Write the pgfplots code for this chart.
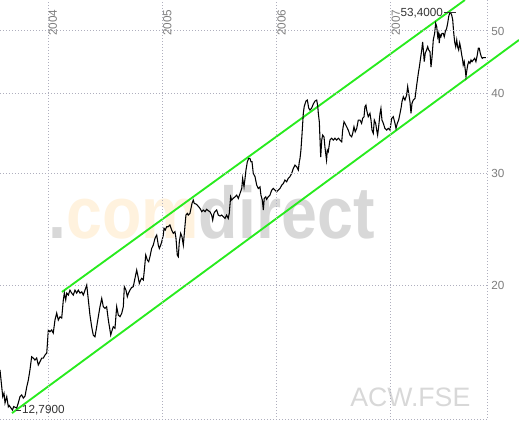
\documentclass[border=0pt]{standalone}
\usepackage{fontspec}
\setmainfont{Liberation Sans}
\usepackage{pgfplots}
\usepackage{pgfplotstable}
\pgfplotsset{compat=1.18}

\definecolor{gridc}{RGB}{175,175,190}
\definecolor{labgray}{RGB}{125,125,125}
\definecolor{chan}{RGB}{40,235,30}
\definecolor{wmpeach}{RGB}{255,242,222}
\definecolor{wmgray}{RGB}{216,216,216}
\definecolor{annot}{RGB}{50,50,50}

% ACW.FSE closing prices (decimal year, EUR)
\pgfplotstableread{
year price
2003.580 14.77
2003.604 13.42
2003.615 13.59
2003.624 13.12
2003.639 13.42
2003.653 12.94
2003.661 13.00
2003.676 12.88
2003.689 12.79
2003.700 12.95
2003.726 12.88
2003.740 13.12
2003.755 13.42
2003.770 13.50
2003.784 13.35
2003.799 13.45
2003.814 13.90
2003.828 14.25
2003.842 14.77
2003.857 15.49
2003.871 15.42
2003.886 15.31
2003.901 15.42
2003.915 15.04
2003.930 15.22
2003.945 15.42
2003.959 15.42
2003.974 15.59
2003.989 15.70
2004.003 17.06
2004.017 16.95
2004.032 17.06
2004.046 16.87
2004.061 17.68
2004.076 18.13
2004.090 17.68
2004.105 17.89
2004.120 17.81
2004.134 19.00
2004.143 19.48
2004.155 19.00
2004.164 19.48
2004.178 19.34
2004.192 19.69
2004.207 19.48
2004.221 19.34
2004.236 19.69
2004.251 19.48
2004.265 19.69
2004.280 19.48
2004.295 19.57
2004.309 19.34
2004.339 20.05
2004.353 19.00
2004.367 18.00
2004.382 17.26
2004.396 16.75
2004.411 16.65
2004.426 17.26
2004.440 17.89
2004.455 18.55
2004.470 19.11
2004.484 18.55
2004.499 18.44
2004.513 18.55
2004.528 17.68
2004.542 17.06
2004.549 16.75
2004.557 16.95
2004.571 17.26
2004.586 17.16
2004.601 18.55
2004.615 18.00
2004.630 17.89
2004.645 18.11
2004.659 18.55
2004.668 19.93
2004.682 19.69
2004.694 19.23
2004.703 19.45
2004.717 19.69
2004.732 19.88
2004.746 19.93
2004.761 20.54
2004.776 21.16
2004.785 20.79
2004.799 20.17
2004.811 20.42
2004.820 20.54
2004.834 20.42
2004.843 21.16
2004.855 22.34
2004.869 21.94
2004.881 21.81
2004.892 22.20
2004.907 22.87
2004.921 23.15
2004.936 23.71
2004.951 24.00
2004.965 23.15
2004.974 22.87
2004.986 23.15
2004.995 23.43
2005.009 24.00
2005.015 24.59
2005.026 24.44
2005.038 24.73
2005.052 24.73
2005.067 24.88
2005.082 24.44
2005.096 24.15
2005.111 24.29
2005.120 23.71
2005.131 22.34
2005.140 22.20
2005.149 23.43
2005.161 24.15
2005.172 23.86
2005.184 23.15
2005.199 24.88
2005.207 25.79
2005.219 25.95
2005.227 25.79
2005.242 25.95
2005.251 26.42
2005.260 26.89
2005.271 27.22
2005.280 26.89
2005.295 26.83
2005.306 26.73
2005.318 26.57
2005.330 26.42
2005.345 26.10
2005.359 26.26
2005.374 26.10
2005.388 26.33
2005.402 26.20
2005.417 26.10
2005.432 25.79
2005.441 25.33
2005.452 25.95
2005.461 26.10
2005.476 26.26
2005.490 25.79
2005.505 25.70
2005.520 25.79
2005.534 25.63
2005.549 25.48
2005.563 25.79
2005.577 25.48
2005.586 25.95
2005.598 27.54
2005.607 27.22
2005.621 27.38
2005.636 27.54
2005.651 27.71
2005.665 27.38
2005.680 27.87
2005.695 28.38
2005.703 29.43
2005.715 28.55
2005.724 29.43
2005.732 30.32
2005.744 31.24
2005.756 31.62
2005.767 31.62
2005.776 31.24
2005.785 31.24
2005.796 29.96
2005.811 29.62
2005.826 28.72
2005.840 28.38
2005.855 28.55
2005.863 27.71
2005.875 27.22
2005.884 26.26
2005.892 27.38
2005.905 27.54
2005.913 27.29
2005.927 27.54
2005.942 27.71
2005.957 28.21
2005.971 28.38
2005.986 28.21
2006.001 28.04
2006.015 28.21
2006.030 28.38
2006.045 28.72
2006.059 28.89
2006.073 29.25
2006.088 29.07
2006.102 29.43
2006.117 29.62
2006.132 29.96
2006.146 30.49
2006.161 30.87
2006.176 30.68
2006.190 30.32
2006.199 31.24
2006.205 31.62
2006.213 32.58
2006.222 34.39
2006.234 37.23
2006.242 38.12
2006.257 38.87
2006.269 39.01
2006.281 37.90
2006.292 37.63
2006.307 37.90
2006.321 38.45
2006.336 38.87
2006.351 39.01
2006.360 38.17
2006.365 37.23
2006.374 36.04
2006.386 31.77
2006.395 33.78
2006.403 34.39
2006.415 34.14
2006.423 32.94
2006.437 31.43
2006.444 32.58
2006.452 32.38
2006.467 33.78
2006.482 34.00
2006.496 33.78
2006.511 34.00
2006.526 33.78
2006.540 34.00
2006.555 33.78
2006.570 33.57
2006.578 35.01
2006.590 36.08
2006.598 35.87
2006.613 35.43
2006.627 35.01
2006.642 34.39
2006.657 34.18
2006.666 34.60
2006.677 35.43
2006.688 34.80
2006.701 35.22
2006.715 36.30
2006.730 36.30
2006.744 35.87
2006.753 36.52
2006.765 36.74
2006.773 38.08
2006.782 38.31
2006.788 37.63
2006.802 36.74
2006.817 37.18
2006.826 36.30
2006.835 35.01
2006.846 34.60
2006.855 36.30
2006.867 35.87
2006.876 35.01
2006.884 34.39
2006.893 35.43
2006.905 37.18
2006.913 37.86
2006.922 36.30
2006.934 35.87
2006.948 35.22
2006.963 35.01
2006.977 35.22
2006.992 35.01
2007.007 36.52
2007.021 36.74
2007.036 35.87
2007.045 35.22
2007.056 35.87
2007.068 36.30
2007.080 37.18
2007.091 38.08
2007.097 38.78
2007.109 39.48
2007.123 39.01
2007.138 39.72
2007.147 40.94
2007.156 39.97
2007.167 38.78
2007.176 37.18
2007.185 38.56
2007.196 39.01
2007.211 39.24
2007.226 41.17
2007.240 42.93
2007.249 43.92
2007.261 45.53
2007.270 46.70
2007.278 48.07
2007.284 46.70
2007.292 44.78
2007.301 46.19
2007.313 46.70
2007.322 47.25
2007.331 46.70
2007.342 46.42
2007.351 43.92
2007.360 45.53
2007.371 48.41
2007.383 49.59
2007.392 51.41
2007.401 50.78
2007.410 48.98
2007.418 49.59
2007.423 47.89
2007.430 49.29
2007.438 48.98
2007.447 49.59
2007.458 49.59
2007.467 48.98
2007.476 49.87
2007.488 50.49
2007.497 51.41
2007.506 52.67
2007.514 53.28
2007.523 53.40
2007.532 52.96
2007.541 52.03
2007.549 49.87
2007.558 48.07
2007.567 47.25
2007.576 48.41
2007.584 47.25
2007.593 46.70
2007.602 47.89
2007.611 46.99
2007.620 45.86
2007.628 45.05
2007.633 44.24
2007.642 44.78
2007.651 43.45
2007.657 42.44
2007.663 43.19
2007.672 44.24
2007.681 44.78
2007.692 44.51
2007.701 45.05
2007.710 44.78
2007.721 45.05
2007.733 45.32
2007.744 44.78
2007.756 45.86
2007.765 46.99
2007.773 46.99
2007.782 46.19
2007.791 45.59
2007.800 45.32
2007.808 45.43
2007.832 45.43
}\acw

\begin{document}
\begin{tikzpicture}
\useasboundingbox (0pt,-1.5pt) rectangle (389.25pt,315pt);
\begin{axis}[
  axis on top,
  at={(0pt,0pt)}, anchor=south west,
  scale only axis, width=365.25pt, height=315pt,
  xmin=2003.580, xmax=2007.841,
  ymode=log, ymin=12.34, ymax=55.90,
  xtick={2004,2005,2006,2007}, xticklabels={2004,2005,2006,2007},
  ytick={20,30,40,50}, yticklabels={20,30,40,50},
  yminorticks=false, xminorticks=false,
  xticklabel pos=right, yticklabel pos=right,
  major tick length=0pt,
  grid=major,
  grid style={gridc, line width=0.75pt, dash pattern=on 0.75pt off 1.5pt},
  axis line style={draw=none},
  clip=false,
  tick label style={font=\fontsize{8.8}{10}\selectfont, text=labgray},
  xticklabel style={rotate=90, anchor=north east, inner sep=0pt, xshift=-7pt, yshift=-0.4pt},
  yticklabel style={anchor=west, inner sep=0pt, xshift=3pt},
]
% watermarks
\node[anchor=base west, inner sep=0pt,
  font=\fontsize{55}{55}\selectfont\bfseries]
  at (rel axis cs:0.0986,0.4333)
  {\scalebox{0.88}[1]{\textcolor{wmgray}{.}\textcolor{wmpeach}{com}\textcolor{wmgray}{direct}}};
\node[anchor=base west, inner sep=0pt, text=wmgray,
  font=\fontsize{20}{20}\selectfont]
  at (rel axis cs:0.7187,0.031) {ACW.FSE};

% frame: bottom and right dotted lines
\draw[gridc, line width=0.75pt, dash pattern=on 0.75pt off 1.5pt]
  (rel axis cs:0,0) -- (rel axis cs:1,0) -- (rel axis cs:1,1);

% trend channel
\addplot[chan, line width=1.4pt] coordinates {(2004.122,19.56) (2007.648,55.90)};
\addplot[chan, line width=1.4pt] coordinates {(2003.685,12.65) (2008.121,48.41)};

% price
\addplot[black, line width=0.8pt] table[x=year, y=price] {\acw};

% low / high marks
\draw[annot, line width=0.6pt] ([xshift=3pt]axis cs:2003.689,12.79) -- ([xshift=6.5pt]axis cs:2003.689,12.79)
  node[anchor=west, inner sep=0.5pt, text=annot, font=\fontsize{8.8}{10}\selectfont] {12,7900};
\draw[annot, line width=0.6pt] ([xshift=4pt]axis cs:2007.523,53.40) -- ([xshift=-5pt]axis cs:2007.523,53.40)
  node[anchor=east, inner sep=0.5pt, text=annot, font=\fontsize{8.8}{10}\selectfont] {53,4000};
\end{axis}
\end{tikzpicture}
\end{document}
